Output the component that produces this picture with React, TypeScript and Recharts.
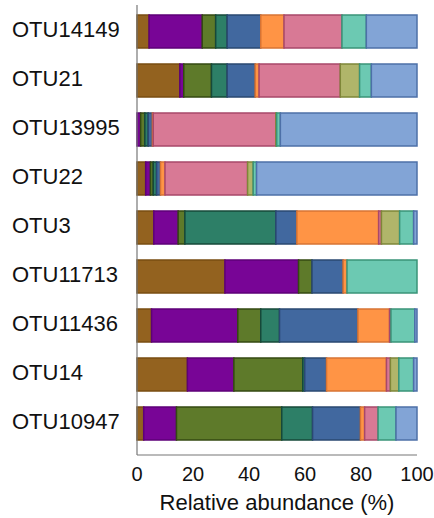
import { BarChart, Bar, XAxis, YAxis } from 'recharts';

const otus = ['OTU14149', 'OTU21', 'OTU13995', 'OTU22', 'OTU3', 'OTU11713', 'OTU11436', 'OTU14', 'OTU10947'];

const brown = [4.3, 15.3, 0, 3.1, 6.0, 31.4, 5.2, 18.0, 2.4];
const purple = [19.0, 1.4, 1.3, 1.7, 8.7, 26.3, 30.8, 16.6, 11.7];
const olive = [4.8, 9.9, 1.5, 1.0, 2.4, 4.8, 8.2, 24.6, 37.6];
const teal = [4.1, 5.6, 1.2, 1.2, 32.5, 0, 6.7, 0.7, 11.0];
const blue = [12.0, 10.0, 1.5, 1.4, 7.5, 11.1, 28.0, 7.8, 17.1];
const orange = [8.3, 1.4, 0.3, 1.6, 29.2, 1.4, 11.3, 21.4, 1.5];
const pink = [20.7, 29.0, 43.8, 29.5, 1.0, 0, 0.5, 1.4, 4.8];
const khaki = [0, 6.9, 0.3, 2.0, 6.5, 0, 0, 3.0, 0];
const mint = [8.7, 4.2, 1.3, 1.2, 5.0, 25.0, 8.5, 5.3, 6.4];
const lightBlue = [18.1, 16.3, 48.8, 57.3, 1.2, 0, 0.8, 1.2, 7.5];

const xTicks = [0, 20, 40, 60, 80, 100];

const series = [
  { key: 'brown', values: brown, fill: '#93621F', stroke: '#7A4E12' },
  { key: 'purple', values: purple, fill: '#780596', stroke: '#5E0078' },
  { key: 'olive', values: olive, fill: '#5E7A2A', stroke: '#344A12' },
  { key: 'teal', values: teal, fill: '#2D7F67', stroke: '#16493A' },
  { key: 'blue', values: blue, fill: '#41689F', stroke: '#2A4872' },
  { key: 'orange', values: orange, fill: '#FF9445', stroke: '#D87434' },
  { key: 'pink', values: pink, fill: '#D87995', stroke: '#A8486A' },
  { key: 'khaki', values: khaki, fill: '#B0B56A', stroke: '#7E8638' },
  { key: 'mint', values: mint, fill: '#6CC9B2', stroke: '#3A9478' },
  { key: 'lightBlue', values: lightBlue, fill: '#82A4D6', stroke: '#4D70A8' },
];

const data = otus.map((name, i) => {
  const row: Record<string, string | number> = { name };
  series.forEach(s => {
    row[s.key] = s.values[i];
  });
  return row;
});

const FONT = '"Liberation Sans", Arial, sans-serif';

function OtuTick(props: any) {
  const { y, payload } = props;
  return (
    <text x={12} y={y + 5} textAnchor="start" fontSize={22} fill="#111" fontFamily={FONT}>
      {payload.value}
    </text>
  );
}

export default function App() {
  return (
    <div style={{ position: 'absolute', left: 0, top: 0, background: '#fff' }}>
      <BarChart
        width={434}
        height={518}
        data={data}
        layout="vertical"
        margin={{ top: 5, right: 17, bottom: 0, left: 12 }}
        barSize={33}
      >
        <XAxis
          type="number"
          domain={[0, 100]}
          ticks={xTicks}
          height={63}
          tickLine={false}
          tickSize={6}
          tickMargin={6}
          axisLine={{ stroke: '#777', strokeWidth: 1.2 }}
          tick={{ fontSize: 20, fill: '#111', fontFamily: FONT }}
          label={{
            value: 'Relative abundance (%)',
            position: 'insideBottom',
            offset: 8,
            fontSize: 22,
            fill: '#111',
            fontFamily: FONT,
          }}
        />
        <YAxis
          type="category"
          dataKey="name"
          width={125}
          padding={{ top: 2, bottom: 7 }}
          tickLine={false}
          axisLine={{ stroke: '#777', strokeWidth: 1.2 }}
          tick={<OtuTick />}
        />
        {series.map(s => (
          <Bar
            key={s.key}
            dataKey={s.key}
            stackId="a"
            fill={s.fill}
            stroke={s.stroke}
            strokeWidth={1.5}
            isAnimationActive={false}
          />
        ))}
      </BarChart>
    </div>
  );
}
